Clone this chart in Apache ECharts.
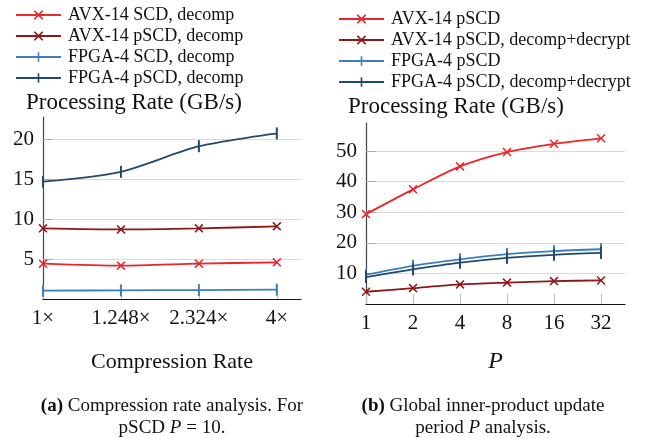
<!DOCTYPE html>
<html>
<head>
<meta charset="utf-8">
<script src="https://cdn.jsdelivr.net/npm/echarts@6/dist/echarts.min.js"></script>
<style>
html,body{margin:0;padding:0;background:#fff;}
#main{width:652px;height:439px;}
</style>
</head>
<body>
<div id="main"></div>
<script>
// (a) compression rate
var rateCats = ['1×', '1.248×', '2.324×', '4×'];
var avxScd = [4.42, 4.17, 4.42, 4.58];
var avxPscd = [8.83, 8.7, 8.83, 9.08];
var fpgaScd = [1.04, 1.08, 1.12, 1.17];
var fpgaPscd = [14.66, 15.9, 19.1, 20.7];
var rateTicks = [5, 10, 15, 20];

// (b) period P
var pCats = ['1', '2', '4', '8', '16', '32'];
var avxP = [29.4, 37.5, 45, 49.7, 52.4, 54.2];
var avxPdd = [4.0, 5.2, 6.4, 7.0, 7.5, 7.7];
var fpgaP = [9.6, 12.5, 14.6, 16.3, 17.3, 17.9];
var fpgaPdd = [8.8, 11.3, 13.5, 15.1, 16.1, 16.7];
var pTicks = [10, 20, 30, 40, 50];

var RED = '#e8262c', DRED = '#8e1717', BLUE = '#3b7fc0', DBLUE = '#25496d';
var FONT = '"Liberation Serif", "DejaVu Serif", serif';
var CROSS = 'path://M1.2,0L5,3.8L8.8,0L10,1.2L6.2,5L10,8.8L8.8,10L5,6.2L1.2,10L0,8.8L3.8,5L0,1.2Z';
// vertical bar inside a square box (lone moves keep the box square)
var BAR = 'path://M0,0M12,12M5,0L7,0L7,12L5,12Z';

var myChart = echarts.init(document.getElementById('main'));

function pts(arr) {
    return arr.map(function (v, i) { return [i, v]; });
}
function line(name, data, color, mark, idx) {
    return {
        name: name,
        type: 'line',
        xAxisIndex: idx,
        yAxisIndex: idx,
        data: pts(data),
        smooth: 0.25,
        symbol: mark === 'x' ? CROSS : BAR,
        symbolSize: mark === 'x' ? 9 : 12,
        showAllSymbol: true,
        color: color,
        lineStyle: {width: 1.8, color: color},
        itemStyle: {color: color},
        animation: false
    };
}
function xAx(idx, max, cats, gap, name, italic) {
    var vals = cats.map(function (c, i) { return i; });
    return {
        type: 'value',
        gridIndex: idx,
        min: 0,
        max: max,
        name: name,
        nameLocation: 'middle',
        nameGap: gap,
        nameTextStyle: {fontFamily: FONT, fontSize: italic ? 24 : 22, fontStyle: italic ? 'italic' : 'normal', color: '#111'},
        axisLine: {lineStyle: {color: '#111', width: 1.2}},
        axisTick: {show: true, inside: true, length: 10, customValues: vals, lineStyle: {color: '#bbb'}},
        axisLabel: {
            customValues: vals,
            margin: 9,
            fontFamily: FONT,
            fontSize: 21,
            color: '#111',
            formatter: function (v) { return cats[Math.round(v)] || ''; }
        },
        splitLine: {show: false}
    };
}
function yAx(idx, max, ticks) {
    return {
        type: 'value',
        gridIndex: idx,
        min: 0,
        max: max,
        axisLine: {show: true, lineStyle: {color: '#444', width: 1.2}},
        axisTick: {show: true, inside: true, length: 10, customValues: ticks, lineStyle: {color: '#aaa'}},
        axisLabel: {customValues: ticks, margin: 9, fontFamily: FONT, fontSize: 21, color: '#111'},
        splitLine: {show: true, customValues: ticks, lineStyle: {color: '#dadada', width: 1.2}}
    };
}
function legend(left, top, names) {
    return {
        orient: 'vertical',
        left: left,
        top: top,
        padding: 0,
        itemWidth: 45,
        itemHeight: 12,
        itemGap: 3,
        data: names,
        textStyle: {fontFamily: FONT, fontSize: 18, lineHeight: 18, color: '#111', padding: [0, 0, 0, 2]}
    };
}
function caption(x, text) {
    return {type: 'text', x: x, y: 417, style: {
        text: text,
        fontFamily: FONT, fontSize: 19, fill: '#111', align: 'center', verticalAlign: 'middle', lineHeight: 22,
        rich: {
            b: {fontFamily: FONT, fontSize: 19, fontWeight: 'bold', lineHeight: 22},
            i: {fontFamily: FONT, fontSize: 19, fontStyle: 'italic', lineHeight: 22}
        }
    }};
}

var option = {
    backgroundColor: '#fff',
    animation: false,
    legend: [
        legend(15, 6, ['AVX-14 SCD, decomp', 'AVX-14 pSCD, decomp', 'FPGA-4 SCD, decomp', 'FPGA-4 pSCD, decomp']),
        legend(338, 10, ['AVX-14 pSCD', 'AVX-14 pSCD, decomp+decrypt', 'FPGA-4 pSCD', 'FPGA-4 pSCD, decomp+decrypt'])
    ],
    grid: [
        {left: 43, top: 117, width: 258, height: 182},
        {left: 366, top: 123, width: 259, height: 181}
    ],
    xAxis: [
        xAx(0, 3.31, rateCats, 52, 'Compression Rate', false),
        xAx(1, 5.51, pCats, 46, 'P', true)
    ],
    yAxis: [
        yAx(0, 22.75, rateTicks),
        yAx(1, 59.2, pTicks)
    ],
    graphic: [
        {type: 'text', left: 26, top: 91, style: {text: 'Processing Rate (GB/s)', font: '23px ' + FONT, fill: '#111'}},
        {type: 'text', left: 348, top: 95, style: {text: 'Processing Rate (GB/s)', font: '23px ' + FONT, fill: '#111'}},
        caption(172, '{b|(a)} Compression rate analysis. For\npSCD {i|P} = 10.'),
        caption(483, '{b|(b)} Global inner-product update\nperiod {i|P} analysis.')
    ],
    series: [
        line('AVX-14 SCD, decomp', avxScd, RED, 'x', 0),
        line('AVX-14 pSCD, decomp', avxPscd, DRED, 'x', 0),
        line('FPGA-4 SCD, decomp', fpgaScd, BLUE, '|', 0),
        line('FPGA-4 pSCD, decomp', fpgaPscd, DBLUE, '|', 0),
        line('AVX-14 pSCD', avxP, RED, 'x', 1),
        line('AVX-14 pSCD, decomp+decrypt', avxPdd, DRED, 'x', 1),
        line('FPGA-4 pSCD', fpgaP, BLUE, '|', 1),
        line('FPGA-4 pSCD, decomp+decrypt', fpgaPdd, DBLUE, '|', 1)
    ]
};
myChart.setOption(option);
window.onresize = function () {
    myChart.resize();
};
</script>
</body>
</html>
